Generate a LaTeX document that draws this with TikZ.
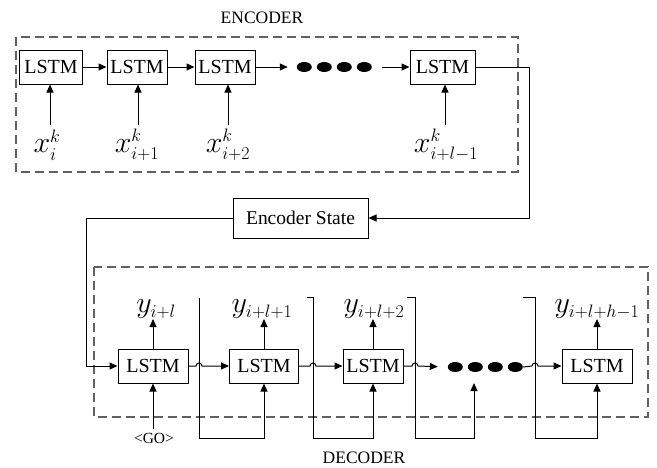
\RequirePackage{fix-cm}
\documentclass[tikz,border=0pt]{standalone}
\usepackage{fontspec}
\setmainfont{Liberation Serif}
\usetikzlibrary{arrows.meta,calc}
% larger base letters with moderate scripts for the subscripted labels
\DeclareMathSizes{30}{30}{18}{13}

\begin{document}
\begin{tikzpicture}[x=1pt,y=-1pt,
  box/.style={draw, line width=1pt, minimum height=34pt, inner sep=0pt,
              font=\fontsize{20}{24}\selectfont},
  frame/.style={draw=black!62, line width=1.3pt, dash pattern=on 9pt off 5pt},
  arr/.style={line width=1pt, -{Triangle[length=8pt,width=7pt]}},
  lbl/.style={font=\fontsize{17.5}{20}\selectfont},
  mlbl/.style={inner sep=0pt, font=\fontsize{30}{34}\selectfont},
  dotrow/.style={minimum width=75pt, minimum height=10pt, inner sep=0pt}
]
\useasboundingbox (0,0) rectangle (657,467);

% ---------------- encoder ----------------
\draw[frame] (16,37) rectangle (518,172);
\node[lbl] (enc) at (262,18) {ENCODER};

\node[box, minimum width=63pt] (e1) at (51,67)    {LSTM};
\node[box, minimum width=60pt] (e2) at (137,67)   {LSTM};
\node[box, minimum width=60pt] (e3) at (225,67)   {LSTM};
\node[box, minimum width=65pt] (e4) at (442.5,67) {LSTM};
\node[dotrow] (edots) at (334.5,67) {};
\foreach \i in {0,...,3}
  \fill ($(edots.west)+(7.5+20*\i,0)$) ellipse (7.5pt and 5pt);

\draw[arr] (e1.east) -- (e2.west);
\draw[arr] (e2.east) -- (e3.west);
\draw[arr, shorten >=9pt] (e3.east) -- (edots.west);
\draw[arr, shorten <=10pt] (edots.east) -- (e4.west);

\node[mlbl] (x1) at (47,145)  {$x_i^k$};
\node[mlbl] (x2) at (137,145) {$x_{i+1}^k$};
\node[mlbl] (x3) at (228,145) {$x_{i+2}^k$};
\node[mlbl] (x4) at (446,145) {$x_{i+l-1}^k$};
\coordinate (xin1) at (50,125);
\coordinate (xin2) at (138,125);
\coordinate (xin3) at (228,125);
\coordinate (xin4) at (445,125);
\draw[arr] (xin1) -- (xin1 |- e1.south);
\draw[arr] (xin2) -- (xin2 |- e2.south);
\draw[arr] (xin3) -- (xin3 |- e3.south);
\draw[arr] (xin4) -- (xin4 |- e4.south);

% ---------------- encoder state ----------------
\node[box, font=\fontsize{19.5}{22}\selectfont, minimum width=135pt,
      minimum height=40pt] (es) at (300.5,218) {Encoder State};
\coordinate (eturn) at (529,67);
\draw[arr] (e4.east) -- (eturn) |- (es.east);

% ---------------- decoder ----------------
\draw[frame] (94,267) rectangle (648,417);
\node[lbl] (dec) at (364,458) {DECODER};

\node[box, minimum width=70pt] (d1) at (153,366) {LSTM};
\node[box, minimum width=69pt] (d2) at (264,366) {LSTM};
\node[box, minimum width=60pt] (d3) at (373,366) {LSTM};
\node[box, minimum width=70pt] (d4) at (597,366) {LSTM};
\node[dotrow] (ddots) at (485.5,367) {};
\foreach \i in {0,...,3}
  \fill ($(ddots.west)+(7.5+20*\i,0)$) ellipse (7.5pt and 5pt);

\coordinate (sturn) at (86,218);
\draw[arr] (es.west) -- (sturn) |- (d1.west);

% crossing points of the feedback wires
\coordinate (v1) at (199,366);
\coordinate (v2) at (313,366);
\coordinate (v3) at (415,366);
\coordinate (v4) at (535,366);

\draw[arr] (d1.east) -- ([xshift=-3pt]v1)
  arc[start angle=180, end angle=0, radius=3pt] -- (d2.west);
\draw[arr] (d2.east) -- ([xshift=-3pt]v2)
  arc[start angle=180, end angle=0, radius=3pt] -- (d3.west);
\draw[arr, shorten >=10pt] (d3.east) -- ([xshift=-3pt]v3)
  arc[start angle=180, end angle=0, radius=3pt] -- (ddots.west);
\draw[arr] (ddots.east) -- ([xshift=-3pt]v4)
  arc[start angle=180, end angle=0, radius=3pt] -- (d4.west);

% outputs
\node[mlbl, anchor=south] (y1) at (156,319) {$y_{i+l}$};
\node[mlbl, anchor=south] (y2) at (262,319) {$y_{i+l+1}$};
\node[mlbl, anchor=south] (y3) at (374,319) {$y_{i+l+2}$};
\node[mlbl, anchor=south] (y4) at (597,319) {$y_{i+l+h-1}$};
\draw[arr] (d1.north) -- (d1.north |- y1.south);
\draw[arr] (d2.north) -- (d2.north |- y2.south);
\draw[arr] (d3.north) -- (d3.north |- y3.south);
\draw[arr] (d4.north) -- (d4.north |- y4.south);

% start token
\node[inner sep=0pt, font=\fontsize{15.5}{18}\selectfont] (go) at (154,438) {<GO>};
\draw[arr, shorten <=4pt] (d1.south |- go.north) -- (d1.south);

% feedback wires: each output is fed to the next step
\coordinate (f1t) at (199,298);
\coordinate (f1b) at (199,438);
\draw[arr] (f1t) -- (f1b) -| (d2.south);

\coordinate (f2h) at (307,297);
\coordinate (f2t) at (313,297);
\coordinate (f2b) at (313,438);
\draw[arr] (f2h) -- (f2t) -- (f2b) -| (d3.south);

\coordinate (f3h) at (407,297);
\coordinate (f3t) at (415,297);
\coordinate (f3b) at (415,438);
\coordinate (ddin) at (474,383);
\draw[arr] (f3h) -- (f3t) -- (f3b) -| (ddin);

\coordinate (f4h) at (523,297);
\coordinate (f4t) at (535,297);
\coordinate (f4b) at (535,438);
\draw[arr] (f4h) -- (f4t) -- (f4b) -| (d4.south);
\end{tikzpicture}
\end{document}
